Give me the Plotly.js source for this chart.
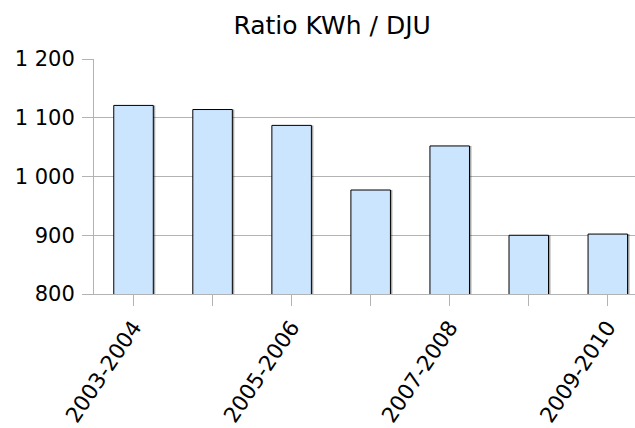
<!DOCTYPE html>
<html>
<head>
<meta charset="utf-8">
<script src="https://cdn.plot.ly/plotly-3.0.1.min.js"></script>
<style>html,body{margin:0;padding:0;background:#fff;overflow:hidden}</style>
</head>
<body>
<div id="chart" style="width:635px;height:428px"></div>
<script>
const categories = ["2003-2004","2004-2005","2005-2006","2006-2007","2007-2008","2008-2009","2009-2010"];
const ratio = [1121, 1114, 1087, 977, 1052, 900, 902];
const tickLabels = ["2003-2004","","2005-2006","","2007-2008","","2009-2010"];

const shadow = {
  type: 'bar', x: categories, y: ratio, width: 0.5, offset: -0.225,
  marker: {color: 'rgba(0,0,0,0.35)', line: {width: 0}},
  hoverinfo: 'skip', showlegend: false
};
const bars = {
  type: 'bar', x: categories, y: ratio, width: 0.5,
  marker: {color: '#cce5ff', line: {color: '#000000', width: 1}},
  showlegend: false
};

const layout = {
  width: 635, height: 428,
  margin: {l: 94.3, r: 0, t: 59, b: 134.3, pad: 0},
  paper_bgcolor: '#ffffff', plot_bgcolor: '#ffffff',
  font: {family: 'DejaVu Sans', color: '#000000', size: 21},
  separators: ', ',
  barmode: 'overlay',
  title: {text: 'Ratio KWh / DJU', font: {family: 'DejaVu Sans', size: 25, color: '#000000'},
          xref: 'container', x: 0.523, xanchor: 'center', yref: 'container', y: 0.942, yanchor: 'middle'},
  xaxis: {
    type: 'category', range: [-0.5, 6.344], tickmode: 'array', tickvals: categories, ticktext: tickLabels,
    tickangle: -56, ticks: 'outside', ticklen: 11, tickcolor: '#b3b3b3', tickwidth: 1,
    showline: true, linecolor: '#b3b3b3', linewidth: 1, showgrid: false, zeroline: false,
    tickfont: {family: 'DejaVu Sans', size: 21.5, color: '#000000'}
  },
  yaxis: {
    range: [800, 1200], tickmode: 'array', tickvals: [800, 900, 1000, 1100, 1200],
    separatethousands: true,
    ticks: 'outside', ticklen: 11, tickcolor: '#b3b3b3', tickwidth: 1,
    showline: true, linecolor: '#b3b3b3', linewidth: 1,
    showgrid: true, gridcolor: '#b3b3b3', gridwidth: 1, zeroline: false,
    ticklabelstandoff: 3,
    tickfont: {family: 'DejaVu Sans', size: 21, color: '#000000'}
  }
};
Plotly.newPlot('chart', [shadow, bars], layout, {displayModeBar: false, staticPlot: true});
</script>
</body>
</html>
